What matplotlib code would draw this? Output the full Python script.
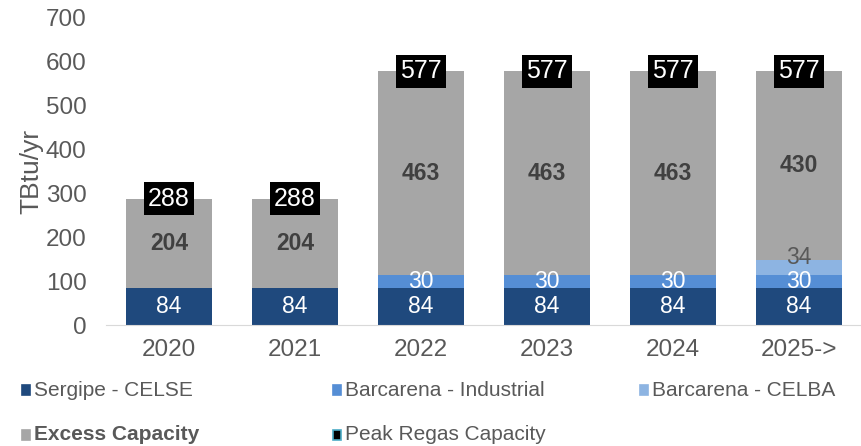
import matplotlib.pyplot as plt
from matplotlib.patches import Rectangle

plt.rcParams['font.family'] = ['Liberation Sans', 'DejaVu Sans']

### Data ###
years = ['2020', '2021', '2022', '2023', '2024', '2025->']
celse = [84, 84, 84, 84, 84, 84]
industrial = [0, 0, 30, 30, 30, 30]
celba = [0, 0, 0, 0, 0, 34]
excess = [204, 204, 463, 463, 463, 430]
peak = [288, 288, 577, 577, 577, 577]

c_celse = '#1F497D'
c_ind = '#558ED5'
c_celba = '#8DB4E2'
c_exc = '#A6A6A6'
grey = '#595959'

fig = plt.figure(figsize=(8.62, 4.46), dpi=100)
ax = fig.add_axes([0.123, 0.271, 0.877, 0.69])

x = range(len(years))
w = 0.68
b1 = celse
b2 = [a + b for a, b in zip(b1, industrial)]
b3 = [a + b for a, b in zip(b2, celba)]

ax.bar(x, celse, w, color=c_celse)
ax.bar(x, industrial, w, bottom=b1, color=c_ind)
ax.bar(x, celba, w, bottom=b2, color=c_celba)
ax.bar(x, excess, w, bottom=b3, color=c_exc)

fs = 16.5
for i in x:
    ax.text(i, celse[i] / 2, str(celse[i]), ha='center', va='center',
            color='white', fontsize=fs)
    if industrial[i]:
        ax.text(i, b1[i] + industrial[i] / 2, str(industrial[i]), ha='center',
                va='center', color='white', fontsize=fs)
    if celba[i]:
        ax.text(i, b2[i] + celba[i] / 2 + 22, str(celba[i]), ha='center',
                va='center', color=grey, fontsize=fs)
    ax.text(i, b3[i] + excess[i] / 2, str(excess[i]),
            ha='center', va='center', color='#404040', fontsize=fs,
            fontweight='bold')
    ax.text(i, peak[i], str(peak[i]), ha='center', va='center', color='white',
            fontsize=18, bbox=dict(facecolor='black', edgecolor='none',
                                   boxstyle='square,pad=0.18'))

ax.set_xlim(-0.5, 5.5)
ax.set_ylim(0, 700)
ax.set_yticks(range(0, 701, 100))
ax.set_xticks(list(x))
ax.set_xticklabels(years)
ax.tick_params(axis='both', length=0, labelsize=17.5, labelcolor=grey)
ax.tick_params(axis='x', pad=10)
ax.tick_params(axis='y', pad=14)
ax.set_ylabel('TBtu/yr', fontsize=19, color=grey, labelpad=2)
for s in ['top', 'right', 'left']:
    ax.spines[s].set_visible(False)
ax.spines['bottom'].set_color('#D9D9D9')

# legend drawn by hand in figure coordinates
entries = [
    ('Sergipe - CELSE', c_celse, c_celse, 22, 390, 'normal'),
    ('Barcarena - Industrial', c_ind, c_ind, 333, 390, 'normal'),
    ('Barcarena - CELBA', c_celba, c_celba, 640, 390, 'normal'),
    ('Excess Capacity', c_exc, c_exc, 22, 435, 'bold'),
    ('Peak Regas Capacity', 'black', '#4BACC6', 333, 435, 'normal'),
]
W, H = 862, 446
for label, fc, ec, px, py, fw in entries:
    fig.add_artist(Rectangle((px / W, 1 - (py + 5) / H), 8 / W, 10 / H,
                             facecolor=fc, edgecolor=ec, linewidth=1.2,
                             transform=fig.transFigure))
    fig.text((px + 12) / W, 1 - py / H, label, fontsize=15, color=grey,
             va='center', ha='left', fontweight=fw)

plt.savefig('out.png')
